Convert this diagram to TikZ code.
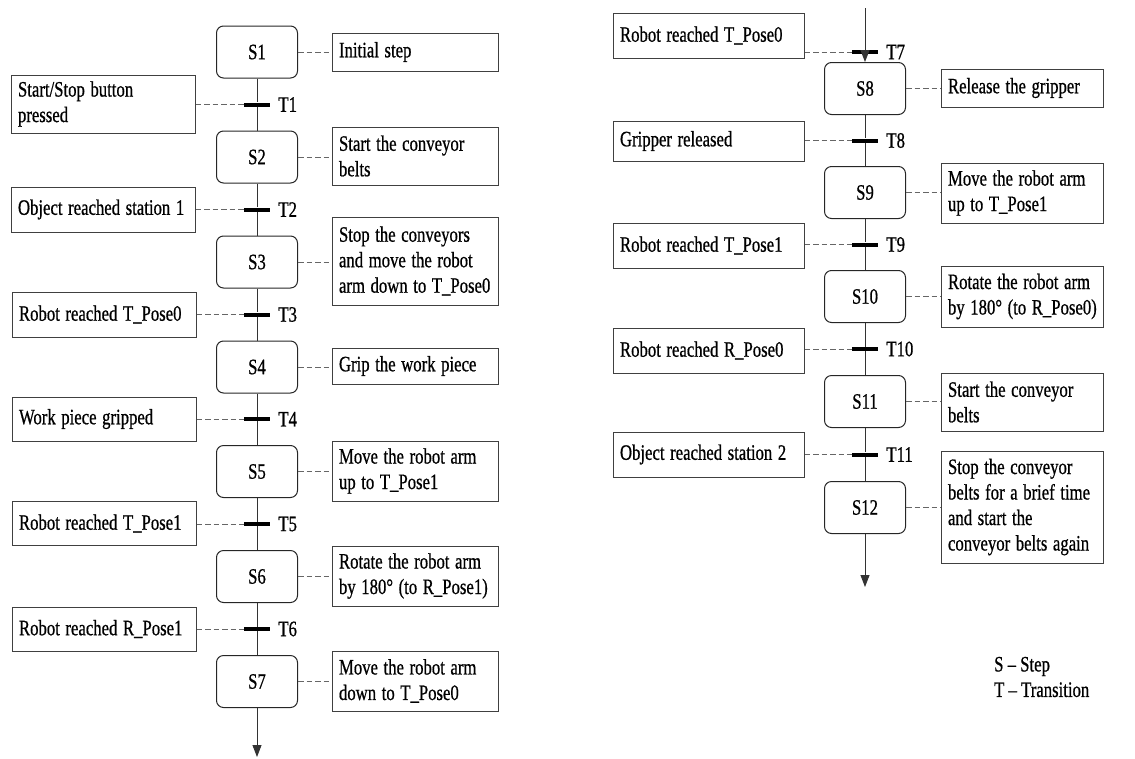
\documentclass[tikz,border=0pt]{standalone}
\usepackage{graphicx}
\usepackage{fontspec}
\setmainfont{Liberation Serif}[FakeBold=0.8]
\usetikzlibrary{arrows.meta}
\newcommand{\sx}[1]{\scalebox{0.76}[1]{#1}}
\begin{document}
\begin{tikzpicture}[x=1pt,y=-1pt,
  font=\fontsize{22}{25.5}\selectfont,
  stepbox/.style={draw=black!85, line width=1pt, rounded corners=7pt, minimum width=81pt, minimum height=52pt, inner sep=0pt},
  note/.style={draw=black!75, line width=1pt, align=left, inner xsep=7pt, inner ysep=3pt, anchor=center},
  lnote/.style={note, text width=170pt},
  rnote/.style={note, text width=152pt},
  lnoteb/.style={note, text width=177pt},
  rnoteb/.style={note, text width=148pt},
  bar/.style={fill=black, minimum width=26pt, minimum height=4pt, inner sep=0pt},
  tlabel/.style={anchor=west, inner sep=0pt, xshift=8pt},
  flow/.style={draw=black!80, line width=0.9pt},
  link/.style={draw=black!60, line width=1pt, dash pattern=on 5.5pt off 3pt},
  tip/.style={-{Triangle[width=9pt,length=12pt]}}
]
\useasboundingbox (0,0) rectangle (1135,758);

% ---------- left column ----------
\node[stepbox] (S1) at (257,52) {\sx{S1}};
\node[stepbox] (S2) at (257,157) {\sx{S2}};
\node[stepbox] (S3) at (257,262) {\sx{S3}};
\node[stepbox] (S4) at (257,367) {\sx{S4}};
\node[stepbox] (S5) at (257,471.5) {\sx{S5}};
\node[stepbox] (S6) at (257,576.5) {\sx{S6}};
\node[stepbox] (S7) at (257,681.5) {\sx{S7}};

\node[bar] (T1) at (257,104.5) {};
\node[bar] (T2) at (257,209.5) {};
\node[bar] (T3) at (257,314.5) {};
\node[bar] (T4) at (257,419.2) {};
\node[bar] (T5) at (257,524) {};
\node[bar] (T6) at (257,629) {};
\foreach \t in {1,...,6} \node[tlabel] at (T\t.east) {\sx{T\t}};

\coordinate (E1) at (257,757);
\draw[flow] (S1) -- (T1) -- (S2) -- (T2) -- (S3) -- (T3) -- (S4) -- (T4) -- (S5) -- (T5) -- (S6) -- (T6) -- (S7);
\draw[flow,tip] (S7) -- (E1);

\node[lnote, minimum height=58pt] (C1) at (103,104) {\sx{Start/Stop button}\\\sx{pressed}};
\node[lnote, minimum height=45pt] (C2) at (103,209.5) {\sx{Object reached station 1}};
\node[lnote, minimum height=45pt] (C3) at (104,314.5) {\sx{Robot reached T\_Pose0}};
\node[lnote, minimum height=44pt] (C4) at (104,419) {\sx{Work piece gripped}};
\node[lnote, minimum height=44pt] (C5) at (104,523.5) {\sx{Robot reached T\_Pose1}};
\node[lnote, minimum height=44pt] (C6) at (104,629) {\sx{Robot reached R\_Pose1}};

\node[rnote, minimum height=38pt] (A1) at (415,52) {\sx{Initial step}};
\node[rnote, minimum height=58pt] (A2) at (415,156) {\sx{Start the conveyor}\\\sx{belts}};
\node[rnote, minimum height=88pt] (A3) at (415,261) {\sx{Stop the conveyors}\\\sx{and move the robot}\\\sx{arm down to T\_Pose0}};
\node[rnote, minimum height=36pt] (A4) at (415,366) {\sx{Grip the work piece}};
\node[rnote, minimum height=60pt] (A5) at (415,471) {\sx{Move the robot arm}\\\sx{up to T\_Pose1}};
\node[rnote, minimum height=60pt] (A6) at (415,576) {\sx{Rotate the robot arm}\\\sx{by 180° (to R\_Pose1)}};
\node[rnote, minimum height=60pt] (A7) at (415,681) {\sx{Move the robot arm}\\\sx{down to T\_Pose0}};

\foreach \i in {1,...,6} \draw[link] (C\i.east |- T\i) -- (T\i.west);
\foreach \i in {1,...,7} \draw[link] (S\i.east) -- (A\i.west |- S\i);

% ---------- right column ----------
\node[stepbox] (S8) at (865,88.5) {\sx{S8}};
\node[stepbox] (S9) at (865,192.5) {\sx{S9}};
\node[stepbox] (S10) at (865,296.5) {\sx{S10}};
\node[stepbox] (S11) at (865,401.5) {\sx{S11}};
\node[stepbox] (S12) at (865,507.5) {\sx{S12}};

\node[bar] (T7) at (865,52) {};
\node[bar] (T8) at (865,140.5) {};
\node[bar] (T9) at (865,244.5) {};
\node[bar] (T10) at (865,349) {};
\node[bar] (T11) at (865,454.5) {};
\foreach \t in {7,...,11} \node[tlabel] at (T\t.east) {\sx{T\t}};

\coordinate (B2) at (865,8);
\coordinate (E2) at (865,587);
\draw[flow] (B2) -- (T7);
\draw[flow,tip] (T7) -- (S8);
\draw[flow] (S8) -- (T8) -- (S9) -- (T9) -- (S10) -- (T10) -- (S11) -- (T11) -- (S12);
\draw[flow,tip] (S12) -- (E2);

\node[lnoteb, minimum height=45pt] (C7) at (708.5,35.5) {\sx{Robot reached T\_Pose0}};
\node[lnoteb, minimum height=40pt] (C8) at (708.5,141) {\sx{Gripper released}};
\node[lnoteb, minimum height=45pt] (C9) at (708.5,245.5) {\sx{Robot reached T\_Pose1}};
\node[lnoteb, minimum height=45pt] (C10) at (708.5,350.5) {\sx{Robot reached R\_Pose0}};
\node[lnoteb, minimum height=45pt] (C11) at (708.5,454.5) {\sx{Object reached station 2}};

\node[rnoteb, minimum height=38pt] (A8) at (1022,88) {\sx{Release the gripper}};
\node[rnoteb, minimum height=60pt] (A9) at (1022,193) {\sx{Move the robot arm}\\\sx{up to T\_Pose1}};
\node[rnoteb, minimum height=61pt] (A10) at (1022,296.5) {\sx{Rotate the robot arm}\\\sx{by 180° (to R\_Pose0)}};
\node[rnoteb, minimum height=58pt] (A11) at (1022,402) {\sx{Start the conveyor}\\\sx{belts}};
\node[rnoteb, minimum height=112pt] (A12) at (1022,507) {\sx{Stop the conveyor}\\\sx{belts for a brief time}\\\sx{and start the}\\\sx{conveyor belts again}};

\foreach \i in {7,...,11} \draw[link] (C\i.east |- T\i) -- (T\i.west);
\foreach \i in {8,...,12} \draw[link] (S\i.east) -- (A\i.west |- S\i);

% legend
\node[anchor=west, align=left, inner sep=0pt] (L) at (994,677) {\sx{S – Step}\\\sx{T – Transition}};
\end{tikzpicture}
\end{document}
